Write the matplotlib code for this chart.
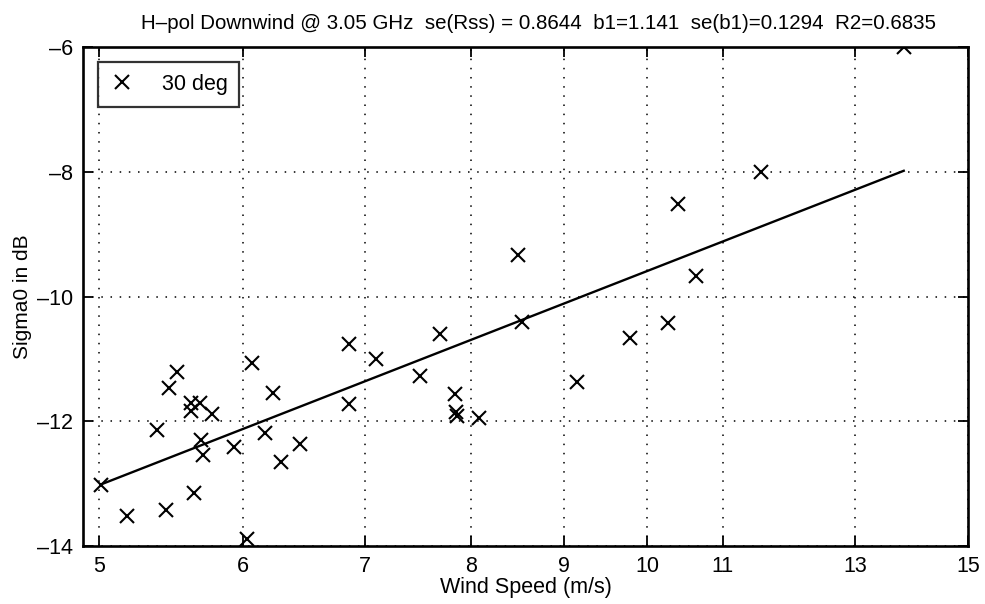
import numpy as np
import matplotlib
matplotlib.use("Agg")
import matplotlib.pyplot as plt
from matplotlib.ticker import FixedLocator, NullLocator, FixedFormatter

plt.rcParams['font.family'] = ['Liberation Sans', 'DejaVu Sans']

# vento (m/s) e sigma0 (dB)
vento = [5.01, 5.18, 5.38, 5.44, 5.46, 5.52, 5.62, 5.62, 5.64, 5.68, 5.69, 5.70,
         5.77, 5.93, 6.03, 6.07, 6.17, 6.23, 6.29, 6.45, 6.86, 6.86, 7.10, 7.50,
         7.69, 7.84, 7.85, 7.86, 8.08, 8.49, 8.53, 9.15, 9.78, 10.27, 10.39,
         10.64, 11.55, 13.83]
sigma0 = [-13.02, -13.52, -12.14, -13.43, -11.47, -11.21, -11.70, -11.84, -13.15,
          -11.70, -12.30, -12.54, -11.88, -12.42, -13.89, -11.06, -12.19, -11.55,
          -12.65, -12.36, -10.76, -11.72, -11.00, -11.27, -10.60, -11.56, -11.85,
          -11.91, -11.95, -9.33, -10.41, -11.37, -10.66, -10.43, -8.52, -9.67,
          -8.00, -6.00]

# ajuste em dB: sigma0 = b0 + b1*10*log10(U)
b0 = -21.0
b1 = 1.141

xticks = [5, 6, 7, 8, 9, 10, 11, 13, 15]
yticks = [-14, -12, -10, -8, -6]

titulo = ("H\u2013pol Downwind @ 3.05 GHz  se(Rss) = 0.8644  b1=1.141  "
          "se(b1)=0.1294  R2=0.6835")

fig = plt.figure(figsize=(9.85, 6.04), dpi=100)
ax = fig.add_axes([0.0843, 0.096, 0.8984, 0.826])

ax.plot(vento, sigma0, 'x', color='black', markersize=10, markeredgewidth=1.5,
        label='30 deg')
xs = np.array([min(vento), max(vento)])
ax.plot(xs, b0 + b1 * 10 * np.log10(xs), color='black', linewidth=1.7)

ax.set_xscale('log')
ax.set_xlim(4.9, 15)
ax.set_ylim(-14, -6)
ax.xaxis.set_major_locator(FixedLocator(xticks))
ax.xaxis.set_major_formatter(FixedFormatter([str(t) for t in xticks]))
ax.xaxis.set_minor_locator(NullLocator())
ax.set_yticks(yticks)
ax.set_yticklabels([str(t).replace('-', '\u2013') for t in yticks])

ax.grid(True, linestyle=(0, (1, 5)), color='black', linewidth=1.1)
ax.tick_params(direction='in', top=True, right=True, length=7, width=1.3,
               labelsize=15.5, pad=7)
for s in ax.spines.values():
    s.set_linewidth(1.9)

ax.set_xlabel('Wind Speed (m/s)', fontsize=15.5, labelpad=0)
ax.set_ylabel('Sigma0 in dB', fontsize=15, labelpad=4)
ax.set_title(titulo, fontsize=14.8, pad=13, x=0.515)

leg = ax.legend(loc='upper left', fontsize=15.5, frameon=True, fancybox=False,
                edgecolor='black', borderpad=0.55, handletextpad=1.3,
                handlelength=1.1, borderaxespad=0.7)
leg.get_frame().set_linewidth(1.6)

fig.savefig('out.png', dpi=100)
